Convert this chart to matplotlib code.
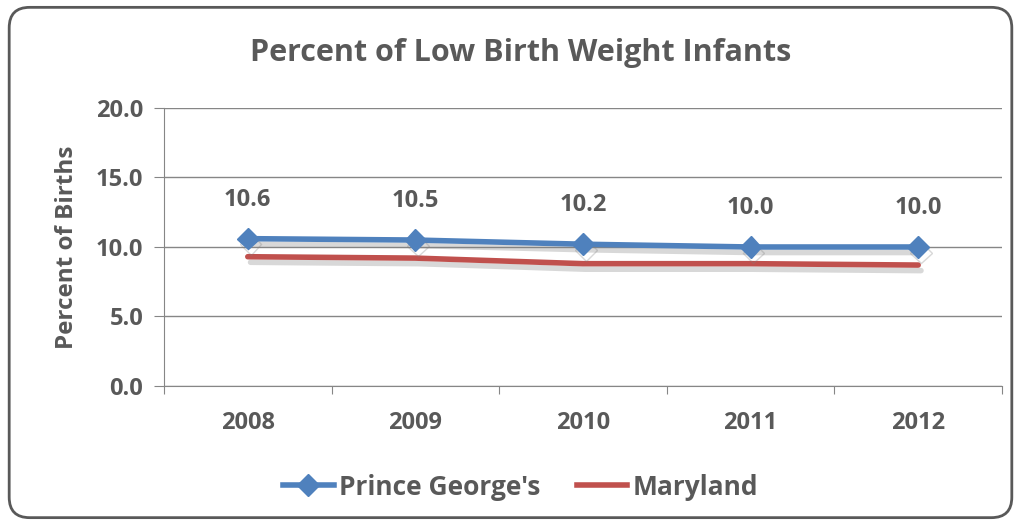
import numpy as np
import matplotlib.pyplot as plt
import matplotlib.patheffects as pe
from matplotlib.lines import Line2D
from matplotlib.patches import FancyBboxPatch

years = ["2008", "2009", "2010", "2011", "2012"]
prince_georges = [10.6, 10.5, 10.2, 10.0, 10.0]
maryland = [9.3, 9.2, 8.8, 8.8, 8.7]
y_ticks = [0, 5, 10, 15, 20]

txt = "#595959"
blue = "#4f81bd"
red = "#c0504d"
plt.rcParams["font.family"] = ["Open Sans", "DejaVu Sans"]
plt.rcParams["font.weight"] = "bold"

fig = plt.figure(figsize=(10.21, 5.25), dpi=100)
ax = fig.add_axes([0.1606, 0.2648, 0.8208, 0.5295])

# rounded chart border
border = FancyBboxPatch((0.009, 0.014), 0.982, 0.972, boxstyle="round,pad=0,rounding_size=0.02",
                        transform=fig.transFigure, fill=False, edgecolor="#595959", linewidth=2.0,
                        mutation_aspect=1021 / 525)
fig.patches.append(border)

x = np.arange(len(years))
shadow = [pe.SimpleLineShadow(offset=(2, -4), shadow_color="#7f7f7f", alpha=0.3), pe.Normal()]

ax.plot(x, maryland, color=red, linewidth=4, solid_capstyle="round", zorder=3, path_effects=shadow)
ax.plot(x, prince_georges, color=blue, linewidth=4, marker="D", markersize=11,
        solid_capstyle="round", zorder=4, path_effects=shadow)

for xi, v in zip(x, prince_georges):
    ax.annotate(f"{v:.1f}", (xi, v), xytext=(0, 28), textcoords="offset points",
                ha="center", va="center", fontsize=17, color=txt, fontweight="bold")

ax.set_xlim(-0.5, 4.5)
ax.set_ylim(0, 20)
ax.set_yticks(y_ticks)
ax.set_yticklabels([f"{v:.1f}" for v in y_ticks], fontsize=17, color=txt, fontweight="bold")
ax.set_xticks(np.arange(-0.5, 5, 1))
ax.set_xticklabels([])
ax.set_xticks(x, minor=True)
ax.set_xticklabels(years, minor=True, fontsize=17, color=txt, fontweight="bold")
ax.tick_params(axis="x", which="major", direction="out", length=6, color="#868686")
ax.tick_params(axis="x", which="minor", length=0, pad=18)
ax.tick_params(axis="y", direction="out", length=7, color="#868686", pad=8)

ax.grid(axis="y", color="#868686", linewidth=1)
ax.set_axisbelow(True)
for s in ["top", "right"]:
    ax.spines[s].set_visible(False)
for s in ["left", "bottom"]:
    ax.spines[s].set_color("#868686")

ax.set_ylabel("Percent of Births", fontsize=17.5, color=txt, fontweight="bold", labelpad=12)
fig.text(0.51, 0.90, "Percent of Low Birth Weight Infants", ha="center", va="center",
         fontsize=22, color=txt, fontweight="bold")

handles = [Line2D([], [], color=blue, linewidth=4, marker="D", markersize=11),
           Line2D([], [], color=red, linewidth=4)]
fig.legend(handles, ["Prince George's", "Maryland"], loc="center", bbox_to_anchor=(0.51, 0.072),
           ncol=2, frameon=False, prop={"size": 19, "weight": "bold"}, labelcolor=txt,
           handlelength=1.9, columnspacing=1.4, handletextpad=0.2)

fig.savefig("out.png", dpi=100)
